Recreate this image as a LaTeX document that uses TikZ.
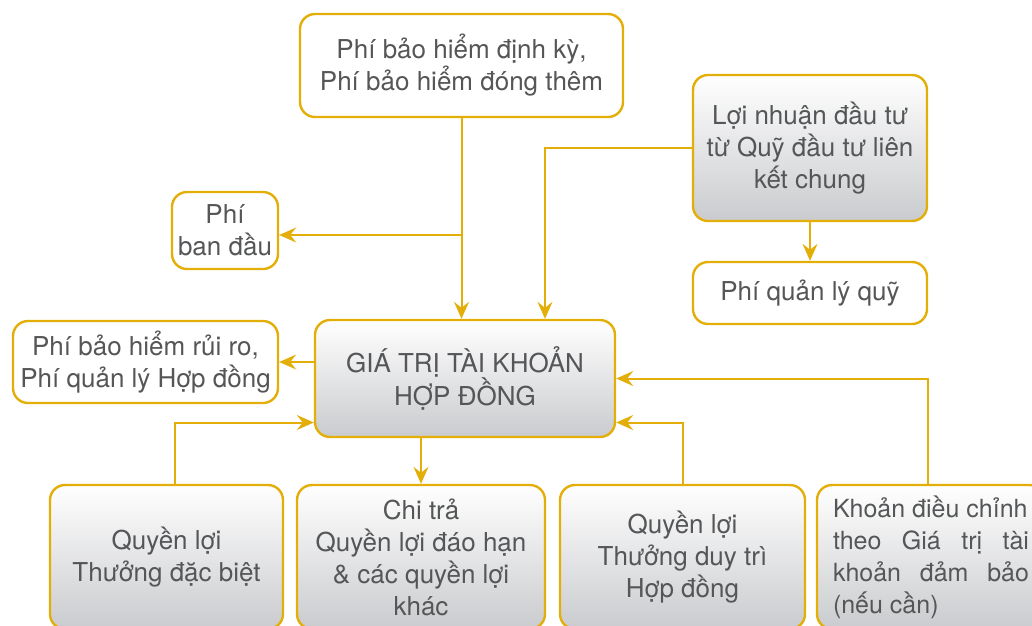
\documentclass[tikz,border=0pt]{standalone}
\usepackage{fontspec}
\setmainfont{TeX Gyre Heros}
\usetikzlibrary{arrows.meta}
\definecolor{gold}{RGB}{228,174,8}
\definecolor{txtgray}{RGB}{85,86,88}
\definecolor{boxgray}{RGB}{202,203,206}

\begin{document}
\begin{tikzpicture}[x=1pt,y=-1pt,
    box/.style={draw=gold, line width=2.4pt, rounded corners=15pt, fill=white,
        text=txtgray, align=center, inner sep=2pt,
        font=\fontsize{26}{32}\selectfont},
    gbox/.style={box, top color=white, bottom color=boxgray},
    arr/.style={draw=gold, line width=2pt, -{Stealth[length=17pt,width=15pt,inset=6pt]}}]
    \useasboundingbox (0,0) rectangle (1032,625);

    \node[box, minimum width=323pt, minimum height=103pt] (phi) at (461.5,65.5) {Phí bảo hiểm định kỳ,\\Phí bảo hiểm đóng thêm};
    \node[gbox, minimum width=234pt, minimum height=146pt] (loi) at (810,148) {Lợi nhuận đầu tư\\từ Quỹ đầu tư liên\\kết chung};
    \node[box, minimum width=234pt, minimum height=62pt] (quy) at (810,293) {Phí quản lý quỹ};
    \node[box, minimum width=106pt, minimum height=77pt] (ban) at (225,230.5) {Phí\\ban đầu};
    \node[box, minimum width=265pt, minimum height=82pt] (rr) at (145.5,362) {Phí bảo hiểm rủi ro,\\Phí quản lý Hợp đồng};
    \node[gbox, minimum width=300pt, minimum height=117pt] (gtri) at (465,378.5) {GIÁ TRỊ TÀI KHOẢN\\HỢP ĐỒNG};

    \node[gbox, minimum width=233pt, minimum height=144pt] (dbiet) at (166.5,557) {Quyền lợi\\Thưởng đặc biệt};
    \node[gbox, minimum width=248pt, minimum height=144pt] (chitra) at (421,557) {Chi trả\\Quyền lợi đáo hạn\\\& các quyền lợi\\khác};
    \node[gbox, minimum width=245pt, minimum height=144pt] (duytri) at (682.5,557) {Quyền lợi\\Thưởng duy trì\\Hợp đồng};
    \node[gbox, minimum width=228pt, minimum height=144pt, text width=196pt, align=justify,
        font=\fontsize{25}{32}\selectfont] (dchinh) at (931,557)
        {\mbox{Khoản điều chỉnh}\linebreak theo Giá trị tài\linebreak khoản đảm bảo\linebreak (nếu cần)};

    \coordinate (nhanh) at (phi.south |- 0,235);

    \draw[arr] (phi.south) -- (phi.south |- gtri.north);
    \draw[arr] (nhanh) -- (ban.east |- nhanh);
    \draw[arr] (loi.west) -| ([xshift=80pt]gtri.north);
    \draw[arr] (loi.south) -- (quy.north);
    \draw[arr] (gtri.west |- rr.east) -- (rr.east);
    \draw[arr] ([xshift=8pt]dbiet.north) |- ([yshift=-44pt]gtri.west);
    \draw[arr] (chitra.north |- gtri.south) -- (chitra.north);
    \draw[arr] (duytri.north) |- ([yshift=-44pt]gtri.east);
    \draw[arr] ([xshift=-3pt]dchinh.north) |- (gtri.east);
\end{tikzpicture}
\end{document}
